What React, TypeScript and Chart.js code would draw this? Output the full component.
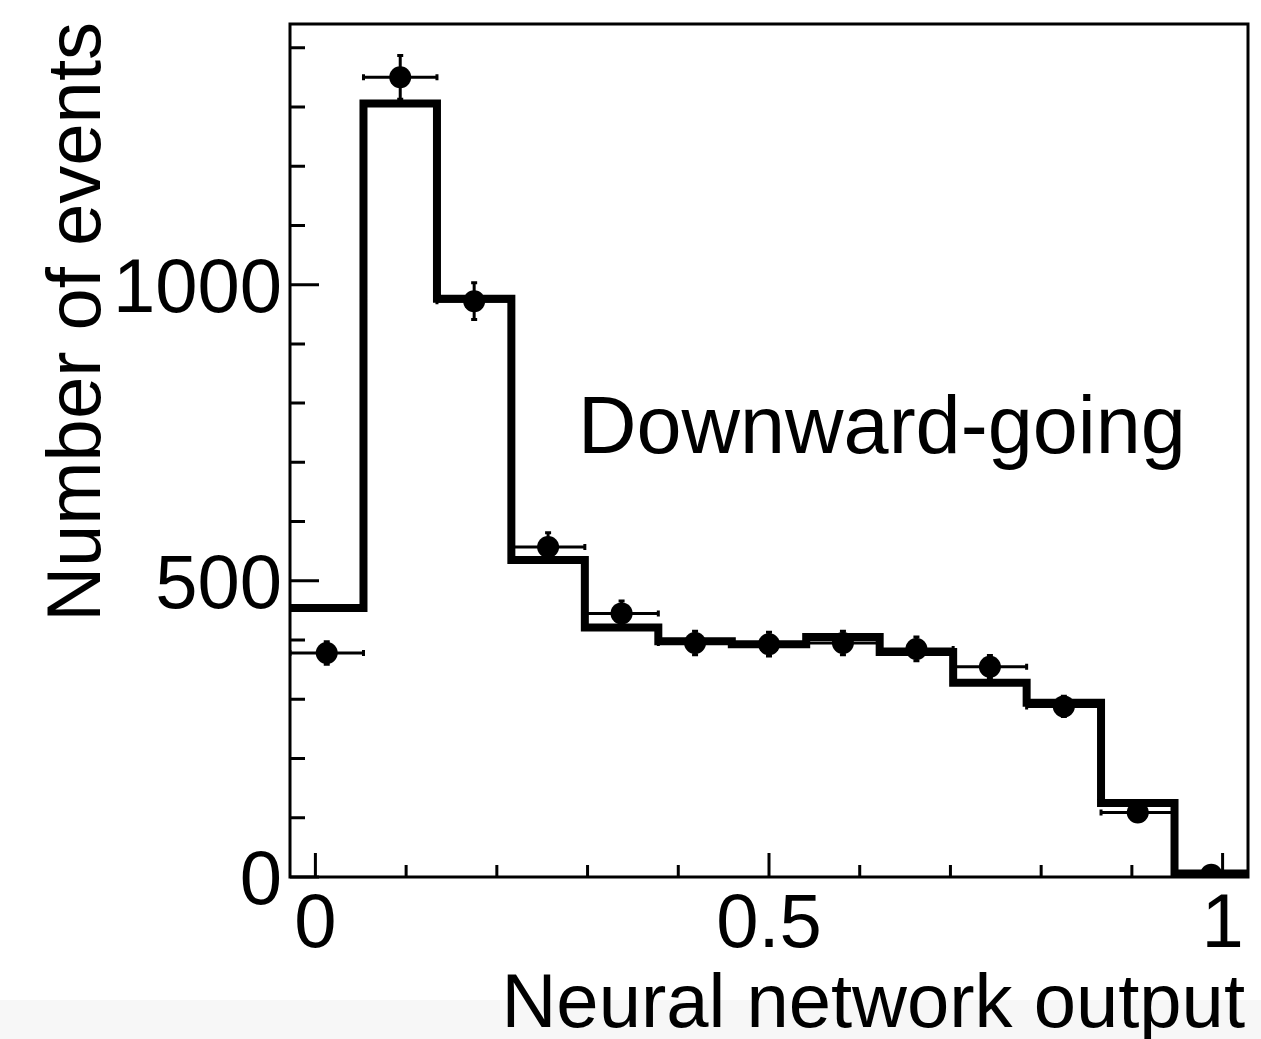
import React, { useEffect, useRef } from 'react';
import { Chart, registerables } from 'chart.js';

Chart.register(...registerables);

// Histogram binning of the network output (13 bins spanning the axis range)
const binEdges = [-0.028, 0.053, 0.134, 0.216, 0.297, 0.378, 0.459, 0.541, 0.622, 0.703, 0.784, 0.866, 0.947, 1.028];
// Expected (simulated) counts per bin, drawn as a step outline
const expectedCounts = [454, 1306, 976, 535, 421, 398, 393, 405, 380, 328, 294, 125, 6];
// Observed counts per bin with their statistical uncertainties
const observedCounts = [378, 1350, 972, 557, 445, 395, 393, 395, 385, 355, 288, 109, 4];
const observedErrors = [19, 37, 31, 24, 21, 20, 20, 20, 20, 19, 17, 10, 2];

// Axis ticks
const xMajorTicks = [0, 0.5, 1];
const xTickLabels = ['0', '0.5', '1'];
const xMinorTicks = [0.1, 0.2, 0.3, 0.4, 0.6, 0.7, 0.8, 0.9];
const yMajorTicks = [0, 500, 1000];
const yTickLabels = ['0', '500', '1000'];
const yMinorTicks = [100, 200, 300, 400, 600, 700, 800, 900, 1100, 1200, 1300, 1400];

const X_MIN = binEdges[0];
const X_MAX = binEdges[binEdges.length - 1];
const Y_MAX = 1440;

const FONT = '"Liberation Sans", Arial, Helvetica, sans-serif';
const TEXT_X_TITLE = 'Neural network output';
const TEXT_Y_TITLE = 'Number of events';
const TEXT_SAMPLE = 'Downward-going';

const binCenters = observedCounts.map((_, i) => (binEdges[i] + binEdges[i + 1]) / 2);

// Step outline points: each bin's value held from its low edge to the next edge
const outlinePoints = expectedCounts
  .map((v, i) => ({ x: binEdges[i], y: v }))
  .concat([{ x: binEdges[binEdges.length - 1], y: expectedCounts[expectedCounts.length - 1] }]);

const observedPoints = observedCounts.map((v, i) => ({ x: binCenters[i], y: v }));

const errorBarPlugin = {
  id: 'errorBars',
  afterDatasetsDraw(chart: any) {
    const { ctx, chartArea, scales } = chart;
    const xs = scales.x;
    const ys = scales.y;
    const cap = 3;
    ctx.save();
    ctx.beginPath();
    ctx.rect(chartArea.left, chartArea.top, chartArea.right - chartArea.left, chartArea.bottom - chartArea.top + 4);
    ctx.clip();
    ctx.strokeStyle = '#000';
    ctx.lineWidth = 3;
    ctx.lineCap = 'butt';
    observedCounts.forEach((v, i) => {
      const px = xs.getPixelForValue(binCenters[i]);
      const py = ys.getPixelForValue(v);
      const xl = xs.getPixelForValue(binEdges[i]);
      const xr = xs.getPixelForValue(binEdges[i + 1]);
      const yt = ys.getPixelForValue(v + observedErrors[i]);
      const yb = ys.getPixelForValue(Math.max(0, v - observedErrors[i]));
      ctx.beginPath();
      ctx.moveTo(xl, py);
      ctx.lineTo(xr, py);
      ctx.moveTo(xl, py - cap);
      ctx.lineTo(xl, py + cap);
      ctx.moveTo(xr, py - cap);
      ctx.lineTo(xr, py + cap);
      ctx.moveTo(px, yt);
      ctx.lineTo(px, yb);
      ctx.moveTo(px - cap, yt);
      ctx.lineTo(px + cap, yt);
      ctx.moveTo(px - cap, yb);
      ctx.lineTo(px + cap, yb);
      ctx.stroke();
    });
    ctx.restore();
  },
};

const framePlugin = {
  id: 'frameAndLabels',
  afterDraw(chart: any) {
    const { ctx, chartArea, scales } = chart;
    const xs = scales.x;
    const ys = scales.y;
    const { left, right, top, bottom } = chartArea;
    ctx.save();
    ctx.strokeStyle = '#000';
    ctx.fillStyle = '#000';

    // frame
    ctx.lineWidth = 3;
    ctx.strokeRect(left, top, right - left, bottom - top);

    // inward tick marks
    ctx.lineWidth = 3;
    ctx.beginPath();
    xMajorTicks.forEach((t) => {
      const p = xs.getPixelForValue(t);
      ctx.moveTo(p, bottom);
      ctx.lineTo(p, bottom - 24);
    });
    xMinorTicks.forEach((t) => {
      const p = xs.getPixelForValue(t);
      ctx.moveTo(p, bottom);
      ctx.lineTo(p, bottom - 12);
    });
    yMajorTicks.forEach((t) => {
      const p = ys.getPixelForValue(t);
      ctx.moveTo(left, p);
      ctx.lineTo(left + 29, p);
    });
    yMinorTicks.forEach((t) => {
      const p = ys.getPixelForValue(t);
      ctx.moveTo(left, p);
      ctx.lineTo(left + 15, p);
    });
    ctx.stroke();

    // tick labels
    ctx.font = `76px ${FONT}`;
    ctx.textBaseline = 'alphabetic';
    ctx.textAlign = 'right';
    yMajorTicks.forEach((t, i) => {
      const p = ys.getPixelForValue(t);
      ctx.fillText(yTickLabels[i], left - 8, p + 27);
    });
    ctx.textAlign = 'center';
    xMajorTicks.forEach((t, i) => {
      const p = xs.getPixelForValue(t);
      ctx.fillText(xTickLabels[i], p, bottom + 70);
    });

    // axis titles
    ctx.font = `76px ${FONT}`;
    ctx.textAlign = 'right';
    ctx.fillText(TEXT_X_TITLE, right - 3, bottom + 150);

    ctx.save();
    ctx.translate(left - 190, top - 2);
    ctx.rotate(-Math.PI / 2);
    ctx.textAlign = 'right';
    ctx.fillText(TEXT_Y_TITLE, 0, 0);
    ctx.restore();

    // sample label
    ctx.font = `81px ${FONT}`;
    ctx.textAlign = 'left';
    ctx.fillText(TEXT_SAMPLE, left + 288, top + 429);

    ctx.restore();
  },
};

export default function App() {
  const canvasRef = useRef<HTMLCanvasElement | null>(null);

  useEffect(() => {
    const canvas = canvasRef.current;
    if (!canvas) return;
    const chart = new Chart(canvas, {
      type: 'line',
      data: {
        datasets: [
          {
            type: 'scatter',
            label: 'Observed',
            data: observedPoints,
            showLine: false,
            pointStyle: 'circle',
            pointRadius: 11,
            pointHoverRadius: 11,
            pointBackgroundColor: '#000',
            pointBorderWidth: 0,
            borderColor: '#000',
            backgroundColor: '#000',
          },
          {
            type: 'line',
            label: 'Expected',
            data: outlinePoints,
            stepped: 'before',
            borderColor: '#000',
            borderWidth: 8,
            borderJoinStyle: 'miter',
            borderCapStyle: 'butt',
            pointRadius: 0,
            pointHoverRadius: 0,
            fill: false,
            tension: 0,
          },
        ],
      } as any,
      options: {
        responsive: false,
        animation: false,
        events: [],
        layout: { padding: { left: 290, top: 24, right: 13, bottom: 162 } },
        scales: {
          x: { type: 'linear', min: X_MIN, max: X_MAX, display: false },
          y: { type: 'linear', min: 0, max: Y_MAX, display: false },
        },
        plugins: {
          legend: { display: false },
          tooltip: { enabled: false },
        },
      } as any,
      plugins: [errorBarPlugin, framePlugin],
    });
    return () => chart.destroy();
  }, []);

  return (
    <div
      style={{
        position: 'absolute',
        left: 0,
        top: 0,
        width: 1261,
        height: 1039,
        background: 'linear-gradient(to bottom, #ffffff 0px, #ffffff 1000px, #f7f7f7 1000px, #f7f7f7 1039px)',
      }}
    >
      <canvas ref={canvasRef} width={1261} height={1039} style={{ display: 'block', width: 1261, height: 1039 }} />
    </div>
  );
}
